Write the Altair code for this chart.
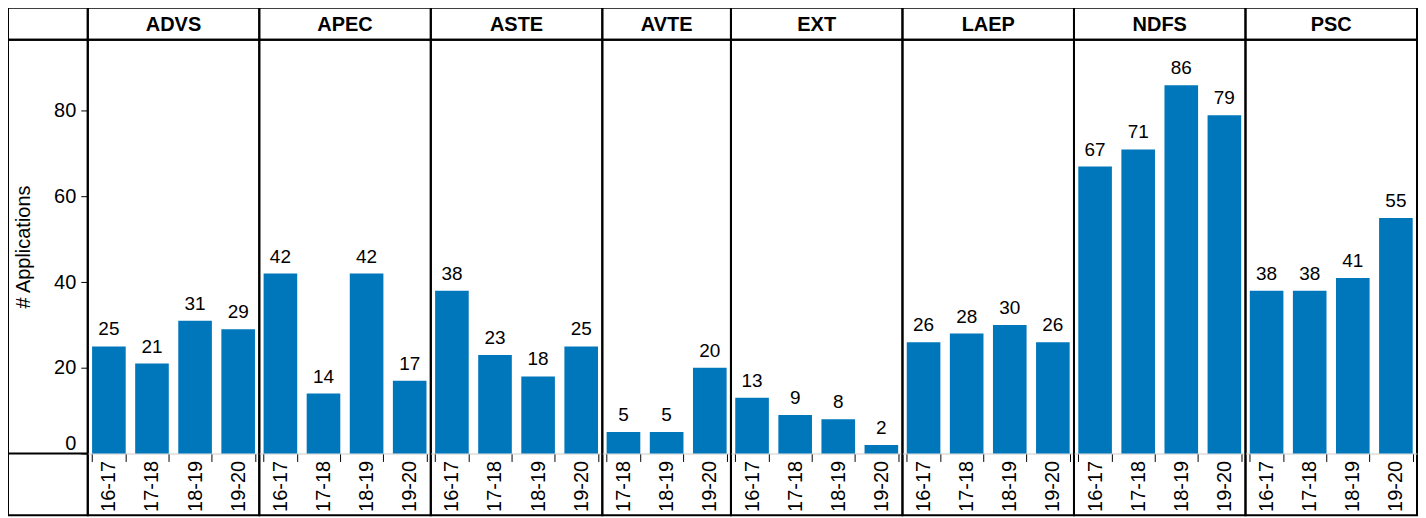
import altair as alt
import pandas as pd

# ---- data ----
departments = ["ADVS", "APEC", "ASTE", "AVTE", "EXT", "LAEP", "NDFS", "PSC"]
years_4 = ["16-17", "17-18", "18-19", "19-20"]
years_avte = ["17-18", "18-19", "19-20"]

advs = [25, 21, 31, 29]
apec = [42, 14, 42, 17]
aste = [38, 23, 18, 25]
avte = [5, 5, 20]
ext = [13, 9, 8, 2]
laep = [26, 28, 30, 26]
ndfs = [67, 71, 86, 79]
psc = [38, 38, 41, 55]

series = {
    "ADVS": (years_4, advs),
    "APEC": (years_4, apec),
    "ASTE": (years_4, aste),
    "AVTE": (years_avte, avte),
    "EXT": (years_4, ext),
    "LAEP": (years_4, laep),
    "NDFS": (years_4, ndfs),
    "PSC": (years_4, psc),
}

rows = []
for d in departments:
    ys, vs = series[d]
    for y, v in zip(ys, vs):
        rows.append({"dept": d, "year": y, "n": v})
df = pd.DataFrame(rows)

# ---- layout constants ----
FONT = "Liberation Sans"
BAR_COLOR = "#0077bb"
LEFT_W = 80
HEAD_H = 32
PLOT_H = 415
LABEL_H = 62
PANEL_H = PLOT_H + LABEL_H
STEP = 43
PX_PER_UNIT = 4.294
Y_MAX = PLOT_H / PX_PER_UNIT
Y_MIN = -LABEL_H / PX_PER_UNIT
Y_SCALE = alt.Scale(domain=[Y_MIN, Y_MAX], nice=False)

dummy = pd.DataFrame({"v": [0]})


def empty_cell(w, h):
    return (
        alt.Chart(dummy)
        .mark_point(opacity=0, size=0, strokeWidth=0)
        .encode(x=alt.value(w / 2), y=alt.value(h / 2))
        .properties(width=w, height=h)
    )


def left_cell():
    # frame line of the table: horizontal rule at the zero baseline
    return (
        alt.Chart(dummy)
        .mark_rule(color="black", strokeWidth=2)
        .encode(y=alt.YDatum(0, scale=Y_SCALE, axis=None))
        .properties(width=LEFT_W, height=PANEL_H)
    )


def panel(d, first):
    ys, _ = series[d]
    w = STEP * len(ys)
    base = alt.Chart(df).transform_filter(alt.datum.dept == d)
    x = alt.X(
        "year:N",
        sort=ys,
        scale=alt.Scale(paddingInner=0.22, paddingOuter=0.1),
        axis=alt.Axis(
            title=None,
            labelAngle=-90,
            labelAlign="right",
            labelBaseline="middle",
            labelFont=FONT,
            labelFontSize=20,
            labelColor="black",
            labelPadding=-1,
            domainColor="#cccccc",
            domainWidth=1,
            tickBand="extent",
            tickColor="black",
            tickWidth=1,
            tickSize=8,
            offset=-LABEL_H,
        ),
    )
    if first:
        yaxis = alt.Axis(
            values=[0, 20, 40, 60, 80],
            domain=False,
            grid=False,
            tickSize=7,
            tickColor="black",
            tickWidth=1,
            labelPadding=5,
            labelFont=FONT,
            labelFontSize=20,
            labelColor="black",
            labelBaseline=alt.ExprRef(expr="datum.value == 0 ? 'bottom' : 'middle'"),
            title="# Applications",
            titleFont=FONT,
            titleFontSize=20,
            titleFontWeight="normal",
            titleColor="black",
            titleAngle=270,
            titleAlign="center",
            titleBaseline="middle",
            titleX=-64,
            titleY=PLOT_H / 2,
        )
    else:
        yaxis = None
    y = alt.Y("n:Q", scale=Y_SCALE, axis=yaxis)
    bars = base.mark_bar(color=BAR_COLOR).encode(x=x, y=y, y2=alt.datum(0))
    labels = base.mark_text(
        baseline="bottom", dy=-7, font=FONT, fontSize=19, color="black"
    ).encode(x=x, y=y, text="n:Q")
    return alt.layer(bars, labels).properties(
        width=w,
        height=PANEL_H,
        title=alt.TitleParams(
            text=d,
            font=FONT,
            fontSize=20,
            fontWeight="bold",
            color="black",
            anchor="middle",
            frame="group",
            baseline="middle",
            offset=-5,
        ),
    )


cells = [empty_cell(LEFT_W, HEAD_H)]
for d in departments:
    cells.append(empty_cell(STEP * len(series[d][0]), HEAD_H))
cells.append(left_cell())
for i, d in enumerate(departments):
    cells.append(panel(d, i == 0))

chart = (
    alt.concat(*cells, columns=9, spacing=0, bounds="flush", align="each")
    .properties(padding={"left": -2, "top": -2, "right": 0, "bottom": 0})
    .configure_view(stroke="black", strokeWidth=2)
)

chart.save("out.html", embed_options={"renderer": "svg", "actions": False})
